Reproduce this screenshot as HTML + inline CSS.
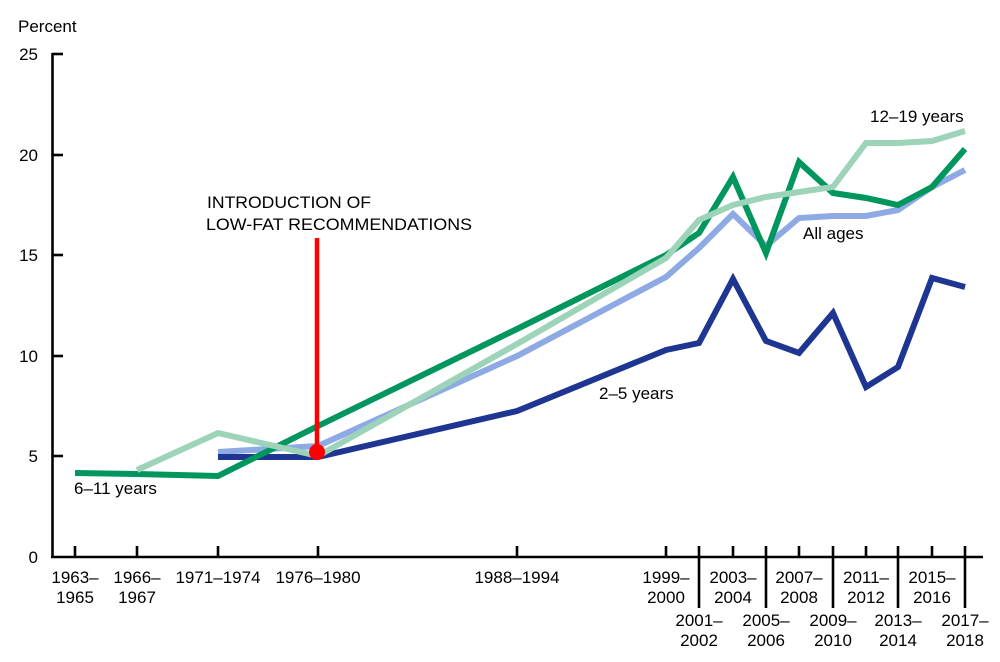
<!DOCTYPE html>
<html><head><meta charset="utf-8"><style>
html,body{margin:0;padding:0;background:#fff;}
svg{display:block;}
text{font-family:"Liberation Sans",Arial,sans-serif;font-size:17px;fill:#000;}
</style></head><body>
<svg width="1000" height="662" viewBox="0 0 1000 662" xmlns="http://www.w3.org/2000/svg">
<rect width="1000" height="662" fill="#fff"/>
<text x="18" y="32">Percent</text>
<g text-anchor="end">
<text x="38" y="60">25</text>
<text x="38" y="161">20</text>
<text x="38" y="261">15</text>
<text x="38" y="362">10</text>
<text x="38" y="462">5</text>
<text x="38" y="563">0</text>
</g>
<g stroke="#000" stroke-width="2.6" fill="none">
<line x1="52.5" y1="53" x2="52.5" y2="558"/>
<line x1="51" y1="557" x2="983" y2="557"/>
<line x1="52" y1="54" x2="63" y2="54"/>
<line x1="52" y1="155" x2="63" y2="155"/>
<line x1="52" y1="255" x2="63" y2="255"/>
<line x1="52" y1="356" x2="63" y2="356"/>
<line x1="52" y1="456" x2="63" y2="456"/>
<line x1="75" y1="546" x2="75" y2="557"/>
<line x1="137" y1="546" x2="137" y2="557"/>
<line x1="218" y1="546" x2="218" y2="557"/>
<line x1="318" y1="546" x2="318" y2="557"/>
<line x1="517" y1="546" x2="517" y2="557"/>
<line x1="666" y1="546" x2="666" y2="557"/>
<line x1="699" y1="546" x2="699" y2="608"/>
<line x1="733" y1="546" x2="733" y2="557"/>
<line x1="766" y1="546" x2="766" y2="608"/>
<line x1="799" y1="546" x2="799" y2="557"/>
<line x1="833" y1="546" x2="833" y2="608"/>
<line x1="866" y1="546" x2="866" y2="557"/>
<line x1="898" y1="546" x2="898" y2="608"/>
<line x1="932" y1="546" x2="932" y2="557"/>
<line x1="965" y1="546" x2="965" y2="608"/>
</g>
<g text-anchor="middle">
<text x="75" y="583">1963–</text><text x="75" y="603">1965</text>
<text x="137" y="583">1966–</text><text x="137" y="603">1967</text>
<text x="218" y="583">1971–1974</text>
<text x="318" y="583">1976–1980</text>
<text x="517" y="583">1988–1994</text>
<text x="666" y="583">1999–</text><text x="666" y="603">2000</text>
<text x="733" y="583">2003–</text><text x="733" y="603">2004</text>
<text x="799" y="583">2007–</text><text x="799" y="603">2008</text>
<text x="866" y="583">2011–</text><text x="866" y="603">2012</text>
<text x="932" y="583">2015–</text><text x="932" y="603">2016</text>
<text x="699" y="626">2001–</text><text x="699" y="646">2002</text>
<text x="766" y="626">2005–</text><text x="766" y="646">2006</text>
<text x="833" y="626">2009–</text><text x="833" y="646">2010</text>
<text x="898" y="626">2013–</text><text x="898" y="646">2014</text>
<text x="965" y="626">2017–</text><text x="965" y="646">2018</text>
</g>
<g fill="none" stroke-width="6" stroke-linejoin="miter" stroke-miterlimit="10">
<polyline stroke="#8eaae4" points="218,452 318,446 517,356 666,277 699,248 733,214 766,246 799,218 833,216 866,216 898,210 932,187 965,170"/>
<polyline stroke="#1e3591" points="218,457 318,457 517,411 666,350 699,343 733,279 766,341 799,353 833,313 866,387 898,367 932,278 965,287"/>
<polyline stroke="#00965e" points="75,473 137,474 218,476 318,426 517,329 666,255 699,233 733,177 766,253 799,162 833,193 866,198 898,205 932,187 965,149"/>
<polyline stroke="#9dd4b9" points="137,470 218,433 318,456 517,344 666,258 699,220 733,205 766,197 799,192 833,187 866,143 898,143 932,141 965,131"/>
</g>
<line x1="317" y1="238" x2="317" y2="452" stroke="#ff0000" stroke-width="4.5"/>
<circle cx="317" cy="452" r="8" fill="#ff0000"/>
<text x="207" y="208" textLength="164" lengthAdjust="spacingAndGlyphs">INTRODUCTION OF</text>
<text x="206" y="230" textLength="266" lengthAdjust="spacingAndGlyphs">LOW-FAT RECOMMENDATIONS</text>
<text x="74" y="494">6–11 years</text>
<text x="599" y="399">2–5 years</text>
<text x="803" y="239">All ages</text>
<text x="870" y="122">12–19 years</text>
</svg>
</body></html>
